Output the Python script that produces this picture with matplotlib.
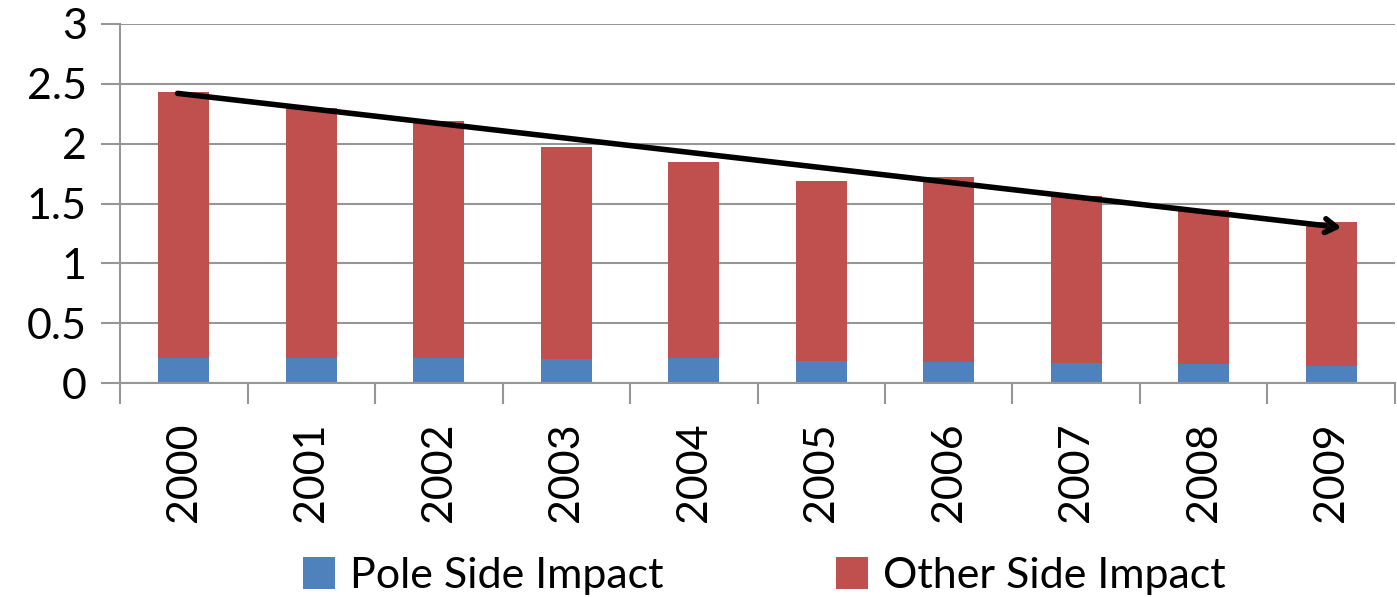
import numpy as np
import matplotlib.pyplot as plt
import matplotlib.patheffects as pe

years = ['2000', '2001', '2002', '2003', '2004', '2005', '2006', '2007', '2008', '2009']
pole_side = [0.21, 0.21, 0.21, 0.20, 0.21, 0.19, 0.18, 0.17, 0.16, 0.145]
total_side = [2.43, 2.30, 2.19, 1.97, 1.85, 1.69, 1.72, 1.565, 1.45, 1.35]
other_side = [t - p for t, p in zip(total_side, pole_side)]

# trend arrow (x index, value)
trend_start = (-0.05, 2.42)
trend_end = (9.08, 1.30)

plt.rcParams['font.family'] = ['Lato', 'DejaVu Sans']

fig = plt.figure(figsize=(13.97, 5.97), dpi=100)
ax = fig.add_axes([0.086, 0.358, 0.9125, 0.602])

x = np.arange(len(years))
grid_col = '#969696'
ax.bar(x, pole_side, width=0.40, color='#4F81BD', label='Pole Side Impact', zorder=2)
ax.bar(x, other_side, width=0.40, bottom=pole_side, color='#C0504D',
       label='Other Side Impact', zorder=2)

ax.annotate('', xy=trend_end, xytext=trend_start,
            arrowprops=dict(arrowstyle='->,head_length=0.8,head_width=0.5', color='black',
                            lw=4, shrinkA=0, shrinkB=0,
                            path_effects=[pe.SimplePatchShadow(offset=(1.5, -2), alpha=0.25),
                                          pe.Normal()]),
            zorder=4)

ax.set_xlim(-0.5, len(years) - 0.5)
ax.set_ylim(0, 3)
ax.set_yticks([0, 0.5, 1, 1.5, 2, 2.5, 3])
ax.set_yticklabels(['0', '0.5', '1', '1.5', '2', '2.5', '3'])
ax.yaxis.grid(True, color=grid_col, linewidth=1.5, zorder=0)
ax.set_axisbelow(True)

ax.set_xticks(x)
ax.set_xticklabels(years, rotation=90)
ax.set_xticks(np.arange(-0.5, len(years)), minor=True)
ax.tick_params(axis='x', which='major', length=0, pad=28, labelsize=31)
ax.tick_params(axis='x', which='minor', length=15, width=1.5, color=grid_col)
ax.tick_params(axis='y', length=14, width=1.5, color=grid_col, labelsize=31, pad=10)

for side in ['top', 'right']:
    ax.spines[side].set_visible(False)
for side in ['left', 'bottom']:
    ax.spines[side].set_color(grid_col)
    ax.spines[side].set_linewidth(1.5)

handles, labels = ax.get_legend_handles_labels()
fig.legend(handles, labels, loc='lower center', bbox_to_anchor=(0.547, -0.062), ncol=2,
           frameon=False, fontsize=31, handlelength=0.75, handleheight=0.75,
           handletextpad=0.35, columnspacing=4.0)

fig.savefig('out.png', dpi=100)
